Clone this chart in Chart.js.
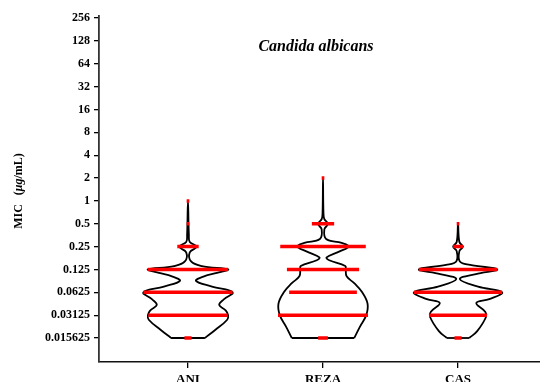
<!DOCTYPE html>
<html><head><meta charset="utf-8">
<script src="https://cdn.jsdelivr.net/npm/chart.js"></script>
<style>
html,body{margin:0;padding:0;width:540px;height:382px;overflow:hidden;background:#fff}
#wrap{width:540px;height:387px}
</style></head><body>
<div id="wrap"><canvas id="c" width="540" height="387"></canvas></div>
<script>
const chartTitle = 'Candida albicans';
const categories = ['ANI', 'REZA', 'CAS'];
const tickValues = [0.015625, 0.03125, 0.0625, 0.125, 0.25, 0.5, 1, 2, 4, 8, 16, 32, 64, 128, 256];
const tickLabels = ['0.015625', '0.03125', '0.0625', '0.125', '0.25', '0.5', '1', '2', '4', '8', '16', '32', '64', '128', '256'];
const micLevels = [0.015625, 0.03125, 0.0625, 0.125, 0.25, 0.5, 1, 2];
// relative spread of the red point bands at each MIC level
const spreadANI  = [0.08, 0.89, 1.00, 0.90, 0.24, 0.03, 0.03, 0];
const spreadREZA = [0.11, 1.01, 0.76, 0.81, 0.96, 0.25, 0, 0.03];
const spreadCAS  = [0.08, 0.65, 0.99, 0.88, 0.11, 0.03, 0, 0];
// violin outlines: log2(MIC) level and relative density
const levelsANI  = [-6, -5.65, -5.2, -5.0, -4.8, -4.55, -4.3, -4.0, -3.75, -3.5, -3.3, -3.15, -3.0, -2.85, -2.65, -2.25, -2.0, -1.8, -1.5, 0];
const densityANI = [0.38, 0.61, 0.88, 0.90, 0.85, 0.70, 0.81, 1.00, 0.54, 0.18, 0.36, 0.65, 0.90, 0.31, 0.07, 0.04, 0.20, 0.04, 0.02, 0];
const levelsREZA  = [-6, -5.5, -5.0, -4.5, -4.0, -3.6, -3.3, -3.0, -2.85, -2.6, -2.47, -2.22, -2.0, -1.84, -1.67, -1.25, -1.0, -0.8, -0.5, 1];
const densityREZA = [0.70, 0.83, 0.97, 1.00, 0.88, 0.70, 0.53, 0.51, 0.50, 0.14, 0.08, 0.36, 0.58, 0.42, 0.07, 0.03, 0.11, 0.03, 0.01, 0];
const levelsCAS  = [-6, -5.7, -5.07, -4.85, -4.47, -4.3, -4.0, -3.75, -3.42, -3.2, -3.0, -2.8, -2.65, -2.2, -2.0, -1.8, -1];
const densityCAS = [0.25, 0.43, 0.63, 0.61, 0.41, 0.70, 0.99, 0.45, 0.04, 0.40, 0.88, 0.27, 0.04, 0.03, 0.11, 0.03, 0];

const spreads = [spreadANI, spreadREZA, spreadCAS];
const levels = [levelsANI, levelsREZA, levelsCAS];
const densities = [densityANI, densityREZA, densityCAS];
const HALF = 0.33;

const datasets = [];
categories.forEach((cat, i) => {
  const c = i + 1;
  const L = levels[i], d = densities[i];
  const outline = [];
  for (let k = 0; k < L.length; k++) outline.push({x: c - d[k] * HALF, y: Math.pow(2, L[k])});
  for (let k = L.length - 2; k >= 0; k--) outline.push({x: c + d[k] * HALF, y: Math.pow(2, L[k])});
  datasets.push({data: outline, borderColor: '#000', borderWidth: 1.8, tension: 0.4, pointRadius: 0, fill: false, order: 1});
  datasets.push({data: [{x: c - d[0] * HALF, y: Math.pow(2, L[0])}, {x: c + d[0] * HALF, y: Math.pow(2, L[0])}],
    borderColor: '#000', borderWidth: 1.8, tension: 0, pointRadius: 0, fill: false, order: 1});
  const red = [];
  spreads[i].forEach((s, k) => {
    if (s > 0) {
      red.push({x: c - s * HALF, y: micLevels[k]}, {x: c + s * HALF, y: micLevels[k]}, {x: c, y: null});
    }
  });
  datasets.push({data: red, borderColor: '#ff0000', borderWidth: 3.5, borderCapStyle: 'butt', tension: 0, pointRadius: 0, spanGaps: false, fill: false, order: 0});
});

const font = '"Liberation Serif", "Times New Roman", serif';
const textPlugin = {
  id: 'texts',
  afterDraw(chart) {
    const ctx = chart.ctx;
    ctx.save();
    ctx.fillStyle = '#000';
    ctx.font = 'italic bold 16px ' + font;
    ctx.textAlign = 'center';
    ctx.textBaseline = 'middle';
    ctx.fillText(chartTitle, 316, 47);
    ctx.translate(19, 191);
    ctx.rotate(-Math.PI / 2);
    const parts = [['MIC', 'bold 12px '], ['   (', 'bold 12px '], ['\u03bcg', 'italic bold 12px '], ['/mL)', 'bold 12px ']];
    let total = 0;
    parts.forEach(p => { ctx.font = p[1] + font; total += ctx.measureText(p[0]).width; });
    let x = -total / 2;
    ctx.textAlign = 'left';
    parts.forEach(p => { ctx.font = p[1] + font; ctx.fillText(p[0], x, 0); x += ctx.measureText(p[0]).width; });
    ctx.restore();
  }
};

new Chart(document.getElementById('c'), {
  type: 'line',
  data: {datasets},
  plugins: [textPlugin],
  options: {
    responsive: false, animation: false, events: [],
    layout: {padding: {top: 16, left: 0, right: 0, bottom: 0}},
    plugins: {legend: {display: false}, tooltip: {enabled: false}, title: {display: false}},
    scales: {
      x: {
        type: 'linear', min: 0.341, max: 3.607,
        afterBuildTicks: s => { s.ticks = categories.map((c, i) => ({value: i + 1})); },
        afterFit: s => { s.height = 25; },
        ticks: {callback: (v, idx) => categories[idx], font: {family: font, size: 13, weight: 'bold'}, color: '#000', padding: 4, maxRotation: 0, autoSkip: false},
        grid: {drawOnChartArea: false, drawTicks: true, tickLength: 6, color: '#000', lineWidth: 1.3},
        border: {display: true, color: '#111', width: 1.5}
      },
      y: {
        type: 'logarithmic', min: Math.pow(2, -7.05), max: Math.pow(2, 8.09),
        afterBuildTicks: s => { s.ticks = tickValues.map(v => ({value: v})); },
        afterFit: s => { s.width = 99; },
        ticks: {callback: (v, idx) => tickLabels[idx], font: {family: font, size: 12, weight: 'bold'}, color: '#000', padding: 4, autoSkip: false},
        grid: {drawOnChartArea: false, drawTicks: true, tickLength: 5, color: '#000', lineWidth: 1.3},
        border: {display: true, color: '#333', width: 1.8}
      }
    }
  }
});
</script>
</body></html>
